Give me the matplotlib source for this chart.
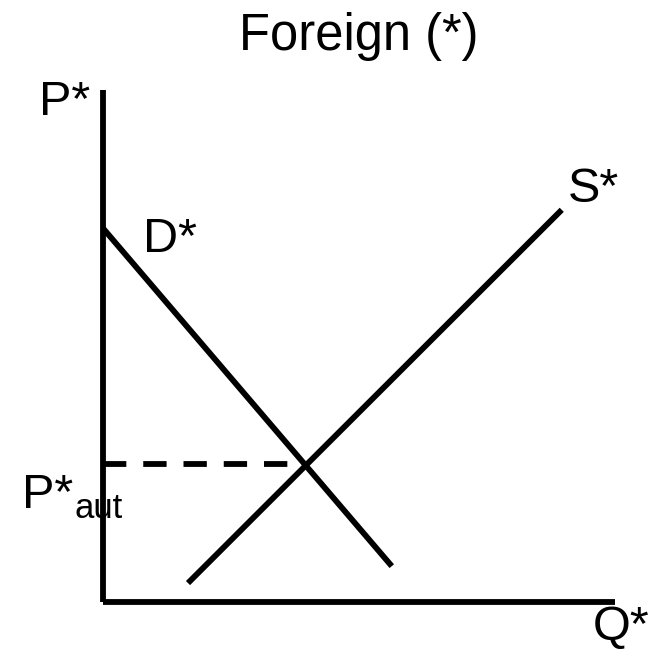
import matplotlib
matplotlib.use("Agg")
import matplotlib.pyplot as plt

plt.rcParams['font.family'] = ['Liberation Sans', 'DejaVu Sans']

# Data (economic units; axes run 0..10)
axis_q_max = 10.0
axis_p_max = 10.0
demand_q = [0.0, 5.64]
demand_p = [7.30, 0.70]
supply_q = [1.66, 8.96]
supply_p = [0.37, 7.66]
eq_q = 3.95
eq_p = 2.69

title = "Foreign (*)"
lbl_p = "P*"
lbl_q = "Q*"
lbl_d = "D*"
lbl_s = "S*"
lbl_paut = "P*"
lbl_paut_sub = "aut"

W, H = 667, 650
fig = plt.figure(figsize=(W / 100, H / 100), dpi=100)
x0, y0, L = 103, 602, 51.2
ax = fig.add_axes([x0 / W, (H - y0) / H, L * 10 / W, L * 10 / H])
ax.set_xlim(0, 10)
ax.set_ylim(0, 10)
ax.axis('off')

lw = 4.2
kw = dict(color='black', lw=lw, clip_on=False, solid_capstyle='butt')
ax.plot([0, 0], [0, axis_p_max], **kw)
ax.plot([0, axis_q_max], [0, 0], **kw)
ax.plot(demand_q, demand_p, **kw)
ax.plot(supply_q, supply_p, **kw)
ax.plot([0, eq_q], [eq_p, eq_p], color='black', lw=lw, clip_on=False,
        dashes=(4.0, 2.9), dash_capstyle='butt')

fs = 35
ax.text(5.0, 10.78, title, fontsize=36.5, ha='center', va='baseline')
ax.text(-0.25, 9.51, lbl_p, fontsize=fs, ha='right', va='baseline')
ax.text(0.78, 6.84, lbl_d, fontsize=fs, ha='left', va='baseline')
ax.text(9.08, 7.81, lbl_s, fontsize=fs, ha='left', va='baseline')
ax.text(9.57, -0.74, lbl_q, fontsize=fs, ha='left', va='baseline')
ax.text(-1.58, 1.84, lbl_paut, fontsize=fs, ha='left', va='baseline')
ax.text(-0.55, 1.64, lbl_paut_sub, fontsize=25, ha='left', va='baseline')

fig.savefig("out.png", dpi=100)
